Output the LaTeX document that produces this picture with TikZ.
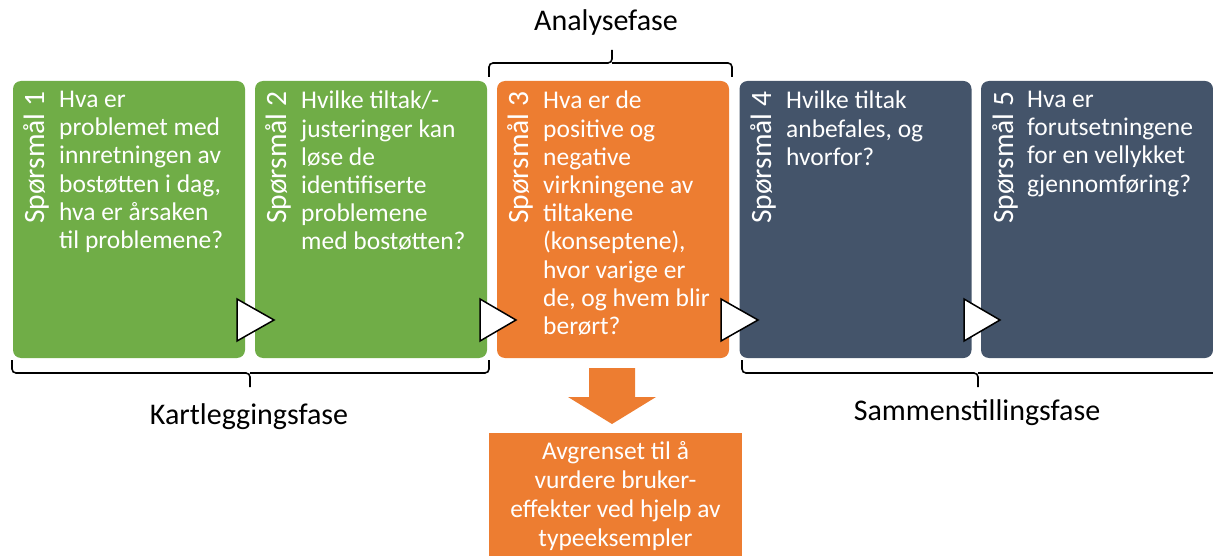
\documentclass[tikz,border=0pt]{standalone}
\usepackage{fontspec}
\setmainfont{Carlito}
\definecolor{cgreen}{HTML}{70AD47}
\definecolor{corange}{HTML}{ED7D31}
\definecolor{cblue}{HTML}{44546A}
\begin{document}
\begin{tikzpicture}[x=1pt,y=-1pt,
  qbox/.style={rounded corners=8pt, minimum width=232pt, minimum height=277pt, inner sep=0pt, draw=none},
  qtext/.style={anchor=north west, inner sep=0pt, align=left, text=white, font=\fontsize{25.5}{28.2}\selectfont},
  qlabel/.style={rotate=90, anchor=west, inner sep=0pt, text=white, font=\fontsize{29.5}{32}\selectfont},
  phase/.style={font=\fontsize{30}{34}\selectfont, inner sep=0pt},
  tri/.style={draw=black, fill=white, line width=1.5pt, line join=miter},
  brc/.style={draw=black, line width=1.6pt, rounded corners=4pt}]
\useasboundingbox (0,0) rectangle (1213,556);
% boxes
\node[qbox, fill=cgreen]  (b1) at (129,219.5) {};
\node[qbox, fill=cgreen]  (b2) at (371,219.5) {};
\node[qbox, fill=corange] (b3) at (613,219.5) {};
\node[qbox, fill=cblue]   (b4) at (855.5,219.5) {};
\node[qbox, fill=cblue]   (b5) at (1097,219.5) {};
% vertical labels
\node[qlabel] (l1) at (36,224) {Spørsmål 1};
\node[qlabel] (l2) at (278,224) {Spørsmål 2};
\node[qlabel] (l3) at (520,224) {Spørsmål 3};
\node[qlabel] (l4) at (763,224) {Spørsmål 4};
\node[qlabel] (l5) at (1005,224) {Spørsmål 5};
% texts
\node[qtext] (t1) at (59,91) {Hva er\\problemet med\\innretningen av\\bostøtten i dag,\\hva er årsaken\\til problemene?};
\node[qtext] (t2) at (301,91) {Hvilke tiltak/-\\justeringer kan\\løse de\\identifiserte\\problemene\\med bostøtten?};
\node[qtext] (t3) at (543,91) {Hva er de\\positive og\\negative\\virkningene av\\tiltakene\\(konseptene),\\hvor varige er\\de, og hvem blir\\berørt?};
\node[qtext] (t4) at (786,91) {Hvilke tiltak\\anbefales, og\\hvorfor?};
\node[qtext] (t5) at (1027,91) {Hva er\\forutsetningene\\for en vellykket\\gjennomføring?};
% triangles
\draw[tri] (237,299) -- (274,320) -- (237,341) -- cycle;
\draw[tri] (480,299) -- (516,320) -- (480,341) -- cycle;
\draw[tri] (721,299) -- (758,320) -- (721,341) -- cycle;
\draw[tri] (964,299) -- (1000,320) -- (964,341) -- cycle;
% braces
\coordinate (k1) at (12,360);
\coordinate (k2) at (489,360);
\coordinate (km) at (250,373);
\coordinate (kt) at (250,387);
\draw[brc] (k1) |- (km) -- (kt);
\draw[brc] (k2) |- (km);
\coordinate (a1) at (489,77);
\coordinate (a2) at (732,77);
\coordinate (am) at (612,63);
\coordinate (at) at (612,50);
\draw[brc] (a1) |- (am) -- (at);
\draw[brc] (a2) |- (am);
\coordinate (s1) at (742,360);
\coordinate (s2) at (1213,373);
\coordinate (sm) at (978,373);
\coordinate (st) at (978,387);
\draw[brc] (s1) |- (sm) -- (st);
\draw[brc] (s2) -- (sm);
\node[phase] (pa) at (606,23) {Analysefase};
\node[phase] (pk) at (249,417) {Kartleggingsfase};
\node[phase] (ps) at (977,413) {Sammenstillingsfase};
% down arrow
\fill[corange] (589,368) -- (635,368) -- (635,397) -- (656,397) -- (612,424) -- (568,397) -- (589,397) -- cycle;
\node[fill=corange, minimum width=253pt, minimum height=123pt, inner sep=0pt] (ob) at (615.5,494.5) {};
\node[align=center, text=white, font=\fontsize{25.5}{29}\selectfont, anchor=north, inner sep=0pt] (ot) at (615.5,441) {Avgrenset til å\\vurdere bruker-\\effekter ved hjelp av\\typeeksempler};
\end{tikzpicture}
\end{document}
